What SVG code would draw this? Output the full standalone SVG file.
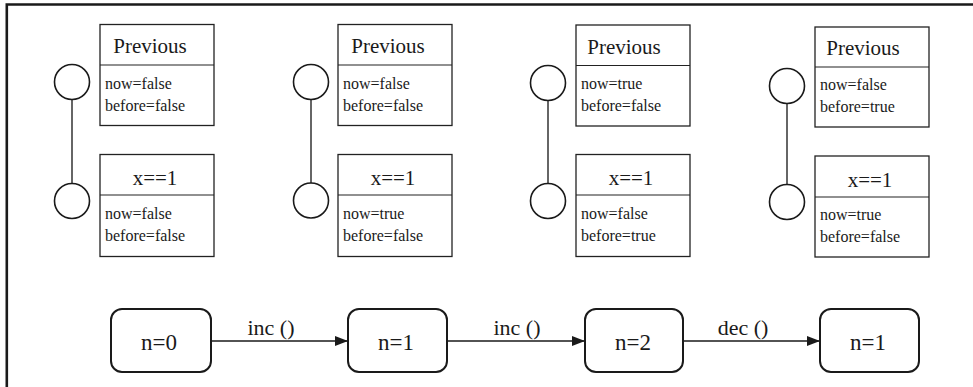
<svg xmlns="http://www.w3.org/2000/svg" width="973" height="387" viewBox="0 0 973 387" font-family="Liberation Serif, Times New Roman, serif">
<defs>
<style>
.frame{fill:none;stroke:#1a1a1a;stroke-width:2.6}
.box{fill:#fff;stroke:#222;stroke-width:1.3}
.div{stroke:#222;stroke-width:1.2}
.circ{fill:#fff;stroke:#1a1a1a;stroke-width:1.6}
.link{stroke:#333;stroke-width:1.5}
.state{fill:#fff;stroke:#1a1a1a;stroke-width:2}
.edge{stroke:#1a1a1a;stroke-width:1.3;fill:none}
text{fill:#1a1a1a}
.title{font-size:21px;text-anchor:middle}
.attr{font-size:16px}
.st{font-size:23px;text-anchor:middle}
.lbl{font-size:22px;text-anchor:middle}
</style>
<marker id="arr" viewBox="0 0 13 10" refX="13" refY="5" markerWidth="13" markerHeight="10" markerUnits="userSpaceOnUse" orient="auto">
<path d="M0,0 L13,5 L0,10 Z" fill="#1a1a1a"/>
</marker>
</defs>
<rect width="973" height="387" fill="#fff"/>
<path class="frame" d="M6.8,387 V4.5 H973"/>

<g id="col1">
<g id="c1-circles">
<line class="link" x1="72" y1="99" x2="72" y2="183.5"/>
<circle class="circ" cx="72" cy="82" r="17.5"/>
<circle class="circ" cx="72" cy="201" r="17.5"/>
</g>
<g id="c1-prev">
<rect class="box" x="100" y="24.5" width="114" height="101"/>
<line class="div" x1="100" y1="65" x2="214" y2="65"/>
<text class="title" x="150" y="53" font-family="Liberation Serif, serif">Previous</text>
<text class="attr" x="105" y="88.5" font-family="Liberation Serif, serif">now=false</text>
<text class="attr" x="105" y="110.5" font-family="Liberation Serif, serif">before=false</text>
</g>
<g id="c1-x">
<rect class="box" x="100" y="154.5" width="114" height="102"/>
<line class="div" x1="100" y1="195" x2="214" y2="195"/>
<text class="title" x="155" y="185" font-family="Liberation Serif, serif">x==1</text>
<text class="attr" x="105" y="218.5" font-family="Liberation Serif, serif">now=false</text>
<text class="attr" x="105" y="240.5" font-family="Liberation Serif, serif">before=false</text>
</g>
</g>

<g id="col2">
<g id="c2-circles">
<line class="link" x1="311" y1="99" x2="311" y2="183.5"/>
<circle class="circ" cx="311" cy="82" r="17.5"/>
<circle class="circ" cx="311" cy="200.5" r="17.5"/>
</g>
<g id="c2-prev">
<rect class="box" x="338" y="24.5" width="114" height="101"/>
<line class="div" x1="338" y1="65" x2="452" y2="65"/>
<text class="title" x="388" y="53" font-family="Liberation Serif, serif">Previous</text>
<text class="attr" x="343" y="88.5" font-family="Liberation Serif, serif">now=false</text>
<text class="attr" x="343" y="110.5" font-family="Liberation Serif, serif">before=false</text>
</g>
<g id="c2-x">
<rect class="box" x="338" y="154.5" width="114" height="102"/>
<line class="div" x1="338" y1="195" x2="452" y2="195"/>
<text class="title" x="393" y="185" font-family="Liberation Serif, serif">x==1</text>
<text class="attr" x="343" y="218.5" font-family="Liberation Serif, serif">now=true</text>
<text class="attr" x="343" y="240.5" font-family="Liberation Serif, serif">before=false</text>
</g>
</g>

<g id="col3">
<g id="c3-circles">
<line class="link" x1="548" y1="100" x2="548" y2="184"/>
<circle class="circ" cx="548" cy="83" r="17.5"/>
<circle class="circ" cx="548" cy="201" r="17.5"/>
</g>
<g id="c3-prev">
<rect class="box" x="576" y="25" width="114" height="101"/>
<line class="div" x1="576" y1="65.5" x2="690" y2="65.5"/>
<text class="title" x="624" y="54" font-family="Liberation Serif, serif">Previous</text>
<text class="attr" x="581" y="89" font-family="Liberation Serif, serif">now=true</text>
<text class="attr" x="581" y="111" font-family="Liberation Serif, serif">before=false</text>
</g>
<g id="c3-x">
<rect class="box" x="576" y="154.5" width="114" height="102"/>
<line class="div" x1="576" y1="195" x2="690" y2="195"/>
<text class="title" x="631" y="185" font-family="Liberation Serif, serif">x==1</text>
<text class="attr" x="581" y="218.5" font-family="Liberation Serif, serif">now=false</text>
<text class="attr" x="581" y="240.5" font-family="Liberation Serif, serif">before=true</text>
</g>
</g>

<g id="col4">
<g id="c4-circles">
<line class="link" x1="787" y1="103" x2="787" y2="185"/>
<circle class="circ" cx="787" cy="86" r="17.5"/>
<circle class="circ" cx="787" cy="202" r="17.5"/>
</g>
<g id="c4-prev">
<rect class="box" x="815" y="27" width="114" height="100"/>
<line class="div" x1="815" y1="67" x2="929" y2="67"/>
<text class="title" x="863" y="55" font-family="Liberation Serif, serif">Previous</text>
<text class="attr" x="820" y="90" font-family="Liberation Serif, serif">now=false</text>
<text class="attr" x="820" y="112" font-family="Liberation Serif, serif">before=true</text>
</g>
<g id="c4-x">
<rect class="box" x="815" y="156" width="114" height="101"/>
<line class="div" x1="815" y1="197" x2="929" y2="197"/>
<text class="title" x="870" y="187" font-family="Liberation Serif, serif">x==1</text>
<text class="attr" x="820" y="220" font-family="Liberation Serif, serif">now=true</text>
<text class="attr" x="820" y="242" font-family="Liberation Serif, serif">before=false</text>
</g>
</g>

<g id="connectors">
<line class="edge" x1="211" y1="341" x2="348" y2="341" marker-end="url(#arr)"/>
<line class="edge" x1="447" y1="341" x2="585" y2="341" marker-end="url(#arr)"/>
<line class="edge" x1="683" y1="341" x2="820" y2="341" marker-end="url(#arr)"/>
<text class="lbl" x="271" y="335" font-family="Liberation Serif, serif">inc ()</text>
<text class="lbl" x="517" y="335" font-family="Liberation Serif, serif">inc ()</text>
<text class="lbl" x="743" y="335" font-family="Liberation Serif, serif">dec ()</text>
</g>

<g id="s0">
<rect class="state" x="111" y="309" width="100" height="63" rx="11"/>
<text class="st" x="159" y="350" font-family="Liberation Serif, serif">n=0</text>
</g>
<g id="s1">
<rect class="state" x="348" y="309" width="99" height="63" rx="11"/>
<text class="st" x="396" y="350" font-family="Liberation Serif, serif">n=1</text>
</g>
<g id="s2">
<rect class="state" x="585" y="309" width="98" height="63" rx="11"/>
<text class="st" x="633" y="350" font-family="Liberation Serif, serif">n=2</text>
</g>
<g id="s3">
<rect class="state" x="820" y="309" width="99" height="63" rx="11"/>
<text class="st" x="868" y="350" font-family="Liberation Serif, serif">n=1</text>
</g>
</svg>
